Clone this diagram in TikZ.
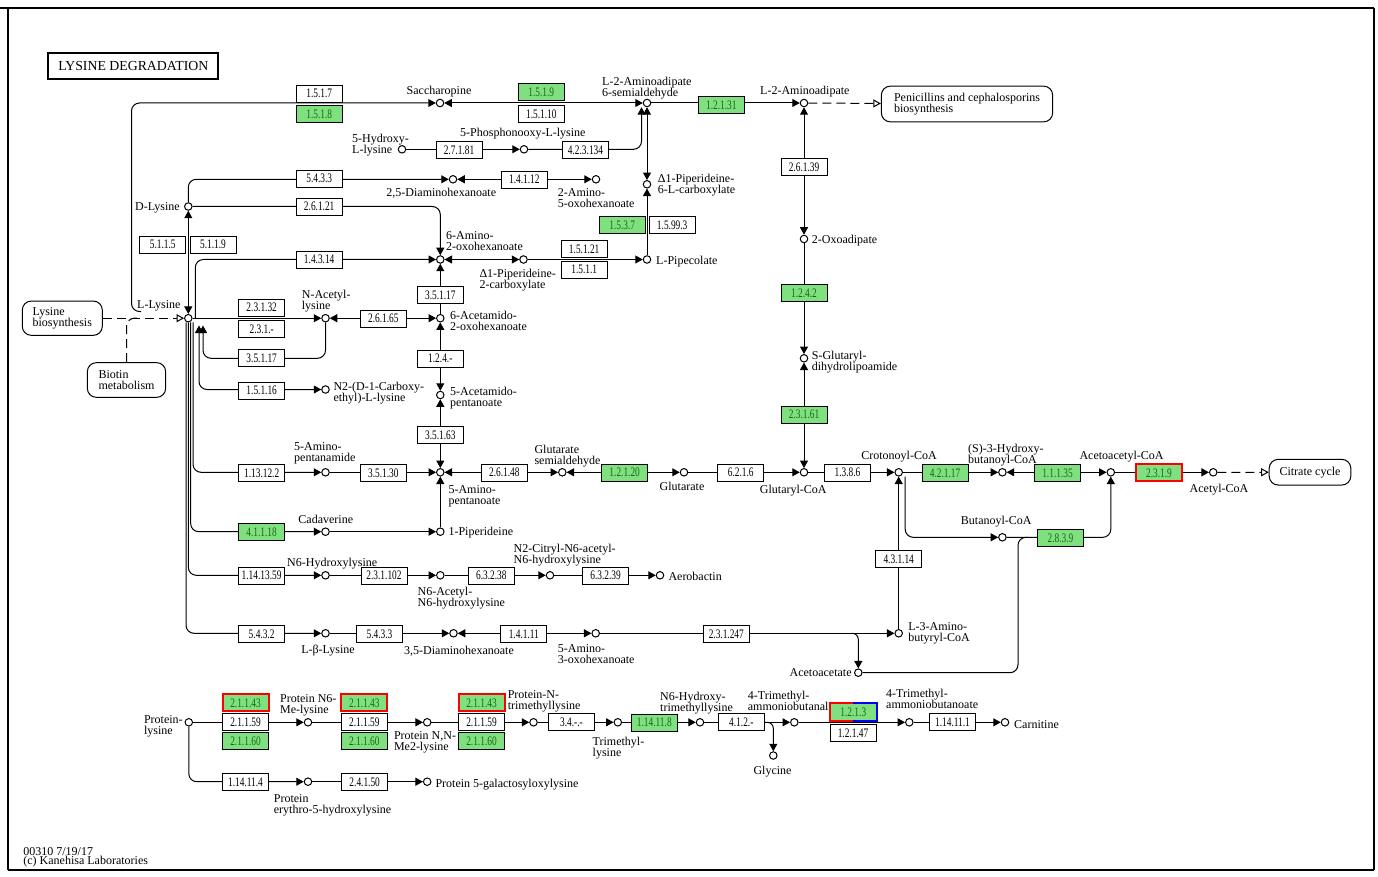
\documentclass[tikz,border=0pt]{standalone}
\usepackage{fontspec}
\setmainfont{Liberation Serif}
\newfontfamily\enzfont[FakeStretch=0.72]{Liberation Serif}
\usetikzlibrary{arrows.meta}

\definecolor{kgreen}{RGB}{128,224,128}
\definecolor{kgtext}{RGB}{20,105,20}

\tikzstyle{cpd} = [circle, minimum size=7.5pt, inner sep=0pt, line width=1pt, draw=black, fill=white]
\tikzstyle{enzyme} = [rectangle, minimum width=46pt, minimum height=17pt, inner sep=0pt, line width=1pt, draw=black, fill=white, font=\enzfont\fontsize{13pt}{13pt}\selectfont]
\tikzstyle{genzyme} = [enzyme, fill=kgreen, text=kgtext]
\tikzstyle{hitenzyme} = [genzyme, draw=red, line width=2pt]
\tikzstyle{mapbox} = [rectangle, rounded corners=9pt, inner sep=0pt, line width=1pt, draw=black, align=left, font=\fontsize{12pt}{11pt}\selectfont]
\tikzstyle{cpdlabel} = [inner sep=0pt, align=left, font=\fontsize{12pt}{11pt}\selectfont]
\tikzstyle{conn} = [line width=1pt]
\tikzstyle{arrow} = [line width=1pt, ->, >={Triangle[length=7.5pt,width=8pt]}]
\tikzstyle{biarrow} = [line width=1pt, <->, >={Triangle[length=7.5pt,width=8pt]}]
\tikzstyle{maplink} = [line width=1pt, dash pattern=on 9pt off 5pt]
\tikzstyle{maparrow} = [maplink, ->, >={Triangle[open,length=7.5pt,width=8pt]}]

\begin{document}
\begin{tikzpicture}[x=1pt, y=-1pt]

    \useasboundingbox (0,0) rectangle (1378,877);

    % frame
    \draw[line width=1.2pt] (0,8) -- (1374,8);
    \draw[line width=1.2pt] (8,8) -- (8,870);
    \draw[line width=1.2pt] (1374,8) -- (1374,870);
    \draw[line width=2.5pt] (8,870) -- (1374,870);

    \node (title) [draw, line width=2pt, minimum width=170pt, minimum height=26pt, inner sep=0pt, font=\fontsize{13.8pt}{14pt}\selectfont] at (133.3,66.3) {LYSINE DEGRADATION};

    % compounds
    \node (sacch) [cpd] at (440,103) {};
    \node (aasa) [cpd] at (647,103) {};
    \node (aad) [cpd] at (804,103) {};
    \node (hlys) [cpd] at (402,149.3) {};
    \node (plys) [cpd] at (524,149.3) {};
    \node (dah25) [cpd] at (453,179.3) {};
    \node (ao5) [cpd] at (596,179.3) {};
    \node (p6c) [cpd] at (647,184.3) {};
    \node (dlys) [cpd] at (188.3,206.5) {};
    \node (oad) [cpd] at (804,239) {};
    \node (aoh) [cpd] at (440.3,259.5) {};
    \node (p2c) [cpd] at (523.5,259.5) {};
    \node (pip) [cpd] at (647,259.5) {};
    \node (lys) [cpd] at (188.3,318.2) {};
    \node (aclys) [cpd] at (325.5,318.2) {};
    \node (acoh) [cpd] at (440.3,318.2) {};
    \node (sgdl) [cpd] at (804,358.3) {};
    \node (cel) [cpd] at (325.5,389.5) {};
    \node (acpt) [cpd] at (440.3,395) {};
    \node (apm) [cpd] at (325.5,472.3) {};
    \node (apt) [cpd] at (440.3,472.3) {};
    \node (gsa) [cpd] at (562.3,472.3) {};
    \node (glt) [cpd] at (684,472.3) {};
    \node (gcoa) [cpd] at (804,472.3) {};
    \node (crot) [cpd] at (898.7,472.3) {};
    \node (hbcoa) [cpd] at (1002.4,472.3) {};
    \node (aacoa) [cpd] at (1110.8,472.3) {};
    \node (accoa) [cpd] at (1213.2,472.3) {};
    \node (cad) [cpd] at (325.5,531.7) {};
    \node (pipd) [cpd] at (440.3,531.7) {};
    \node (bcoa) [cpd] at (1002.4,537.3) {};
    \node (hyl) [cpd] at (325.5,575.3) {};
    \node (achyl) [cpd] at (440.3,575.3) {};
    \node (cit) [cpd] at (550,575.3) {};
    \node (aerob) [cpd] at (660,575.3) {};
    \node (blys) [cpd] at (325.5,633.3) {};
    \node (dah35) [cpd] at (453.5,633.3) {};
    \node (ao3) [cpd] at (595.7,633.3) {};
    \node (abcoa) [cpd] at (898.7,633.3) {};
    \node (acac) [cpd] at (858.3,672.7) {};
    \node (prlys) [cpd] at (188.8,722.3) {};
    \node (pme1) [cpd] at (308,722.3) {};
    \node (pme2) [cpd] at (427.2,722.3) {};
    \node (pme3) [cpd] at (533.5,722.3) {};
    \node (tml) [cpd] at (617.8,722.3) {};
    \node (html) [cpd] at (700,722.3) {};
    \node (tmabal) [cpd] at (794.3,722.3) {};
    \node (gly) [cpd] at (773.3,755.5) {};
    \node (tmaba) [cpd] at (909.3,722.3) {};
    \node (carn) [cpd] at (1005,722.3) {};
    \node (phyl) [cpd] at (308,781.7) {};
    \node (pgal) [cpd] at (427.2,781.7) {};

    % linked maps
    \node (pen) [mapbox, minimum width=171.3pt, minimum height=35.7pt] at (967,104) {Penicillins and cephalosporins\\biosynthesis};
    \node (citrate) [mapbox, minimum width=81.6pt, minimum height=25.7pt] at (1310,472.2) {Citrate cycle};
    \node (lysbio) [mapbox, minimum width=80pt, minimum height=34.3pt] at (62.3,318.2) {Lysine\\biosynthesis};
    \node (biotin) [mapbox, minimum width=78.3pt, minimum height=34.7pt] at (126.5,380) {Biotin\\metabolism};

    % compound labels
    \node (tsacch) [cpdlabel, anchor=base] at (439,94.5) {Saccharopine};
    \node (taasa) [cpdlabel, anchor=north west] at (602,76.7) {L-2-Aminoadipate\\6-semialdehyde};
    \node (taad) [cpdlabel, anchor=base west] at (760,95) {L-2-Aminoadipate};
    \node (thlys) [cpdlabel, anchor=north west] at (352,134.3) {5-Hydroxy-\\L-lysine};
    \node (tplys) [cpdlabel, anchor=base west] at (460,136.5) {5-Phosphonooxy-L-lysine};
    \node (tdah25) [cpdlabel, anchor=base] at (441.3,196.7) {2,5-Diaminohexanoate};
    \node (tao5) [cpdlabel, anchor=north west] at (557.7,188.3) {2-Amino-\\5-oxohexanoate};
    \node (tp6c) [cpdlabel, anchor=north west] at (657.7,174) {Δ1-Piperideine-\\6-L-carboxylate};
    \node (taoh) [cpdlabel, anchor=north west] at (446,231.7) {6-Amino-\\2-oxohexanoate};
    \node (tp2c) [cpdlabel, anchor=north west] at (479.3,268.5) {Δ1-Piperideine-\\2-carboxylate};
    \node (tpip) [cpdlabel, anchor=base west] at (656,264.3) {L-Pipecolate};
    \node (toad) [cpdlabel, anchor=base west] at (811.7,243.3) {2-Oxoadipate};
    \node (tdlys) [cpdlabel, anchor=base east] at (180,211) {D-Lysine};
    \node (tlys) [cpdlabel, anchor=base east] at (180.7,308.3) {L-Lysine};
    \node (taclys) [cpdlabel, anchor=north west] at (301.7,290) {N-Acetyl-\\lysine};
    \node (tacoh) [cpdlabel, anchor=north west] at (450,310.7) {6-Acetamido-\\2-oxohexanoate};
    \node (tcel) [cpdlabel, anchor=north west] at (333.3,381.7) {N2-(D-1-Carboxy-\\ethyl)-L-lysine};
    \node (tacpt) [cpdlabel, anchor=north west] at (450,386.7) {5-Acetamido-\\pentanoate};
    \node (tsgdl) [cpdlabel, anchor=north west] at (811.7,350.7) {S-Glutaryl-\\dihydrolipoamide};
    \node (tapm) [cpdlabel, anchor=north west] at (294,442.7) {5-Amino-\\pentanamide};
    \node (tgsa) [cpdlabel, anchor=north west] at (534.3,445) {Glutarate\\semialdehyde};
    \node (tapt) [cpdlabel, anchor=north west] at (448.3,485) {5-Amino-\\pentanoate};
    \node (tglt) [cpdlabel, anchor=base] at (682,490) {Glutarate};
    \node (tgcoa) [cpdlabel, anchor=base] at (793.3,493.2) {Glutaryl-CoA};
    \node (tcrot) [cpdlabel, anchor=base] at (899,459.2) {Crotonoyl-CoA};
    \node (thbcoa) [cpdlabel, anchor=north west] at (968,443.5) {(S)-3-Hydroxy-\\butanoyl-CoA};
    \node (taacoa) [cpdlabel, anchor=base] at (1121.5,459.2) {Acetoacetyl-CoA};
    \node (taccoa) [cpdlabel, anchor=base] at (1219,492.3) {Acetyl-CoA};
    \node (tbcoa) [cpdlabel, anchor=base] at (996.3,524.3) {Butanoyl-CoA};
    \node (tabcoa) [cpdlabel, anchor=north west] at (908.2,622.7) {L-3-Amino-\\butyryl-CoA};
    \node (tacac) [cpdlabel, anchor=base east] at (851.8,676.8) {Acetoacetate};
    \node (tcad) [cpdlabel, anchor=base] at (325.8,523.3) {Cadaverine};
    \node (tpipd) [cpdlabel, anchor=base west] at (448.3,535) {1-Piperideine};
    \node (thyl) [cpdlabel, anchor=base west] at (287,566) {N6-Hydroxylysine};
    \node (tachyl) [cpdlabel, anchor=north west] at (417.4,586.7) {N6-Acetyl-\\N6-hydroxylysine};
    \node (tcit) [cpdlabel, anchor=north west] at (513.4,544) {N2-Citryl-N6-acetyl-\\N6-hydroxylysine};
    \node (taerob) [cpdlabel, anchor=base west] at (668.3,580.5) {Aerobactin};
    \node (tblys) [cpdlabel, anchor=base] at (328,653.3) {L-β-Lysine};
    \node (tdah35) [cpdlabel, anchor=base] at (459,654.3) {3,5-Diaminohexanoate};
    \node (tao3) [cpdlabel, anchor=north west] at (557.7,644.3) {5-Amino-\\3-oxohexanoate};
    \node (tprlys) [cpdlabel, anchor=north west] at (143.8,715) {Protein-\\lysine};
    \node (tpme1) [cpdlabel, anchor=north west] at (279.9,694.3) {Protein N6-\\Me-lysine};
    \node (tpme2) [cpdlabel, anchor=north west] at (393.8,731.7) {Protein N,N-\\Me2-lysine};
    \node (tpme3) [cpdlabel, anchor=north west] at (507.6,690.7) {Protein-N-\\trimethyllysine};
    \node (ttml) [cpdlabel, anchor=north west] at (592.5,736.7) {Trimethyl-\\lysine};
    \node (thtml) [cpdlabel, anchor=north west] at (660,691.7) {N6-Hydroxy-\\trimethyllysine};
    \node (ttmabal) [cpdlabel, anchor=north west] at (747.7,690.7) {4-Trimethyl-\\ammoniobutanal};
    \node (tgly) [cpdlabel, anchor=base] at (772.5,774.5) {Glycine};
    \node (ttmaba) [cpdlabel, anchor=north west] at (886,689.3) {4-Trimethyl-\\ammoniobutanoate};
    \node (tcarn) [cpdlabel, anchor=base west] at (1014,728) {Carnitine};
    \node (tphyl) [cpdlabel, anchor=north west] at (273.7,794.3) {Protein\\erythro-5-hydroxylysine};
    \node (tpgal) [cpdlabel, anchor=base west] at (435.3,787) {Protein 5-galactosyloxylysine};
    \node (tver) [cpdlabel, anchor=base west] at (23.2,855) {00310 7/19/17};
    \node (tcopy) [cpdlabel, anchor=base west] at (23.2,864.5) {(c) Kanehisa Laboratories};

    % free ends of connectors
    \coordinate (lystop) at (141,311.5);
    \coordinate (lysr1) at (199,325.5);
    \coordinate (lysr2) at (203,325.5);
    \coordinate (lysb2) at (203,358.3);
    \coordinate (bioj) at (137,318.2);
    \coordinate (acacj) at (1028,537.3);
    \coordinate (acacbr) at (851.7,633.3);
    \coordinate (glybr) at (765,722.3);

    % reactions
    \draw [arrow, rounded corners=8pt] (lystop) -- (131.5,311.5) -- (131.5,103) -- (sacch);
    \draw [biarrow] (aasa) -- (sacch);
    \draw [arrow] (aasa) -- (aad);
    \draw [maparrow] (aad) -- (pen);
    \draw [arrow] (hlys) -- (plys);
    \draw [arrow, rounded corners=8pt] (plys) -| ([xshift=-5.5pt]aasa.south);
    \draw [biarrow] (aasa) -- (p6c);
    \draw [arrow] (pip) -- (p6c);
    \draw [arrow, rounded corners=8pt] (dlys) |- (dah25);
    \draw [biarrow] (ao5) -- (dah25);
    \draw [arrow, rounded corners=8pt] (dlys) -| (aoh);
    \draw [biarrow] (lys) -- (dlys);
    \draw [arrow, rounded corners=8pt] ([xshift=7pt]lys.center) |- (aoh);
    \draw [biarrow] (aoh) -- (p2c);
    \draw [arrow] (p2c) -- (pip);

    \draw [arrow] (lys) -- (aclys);
    \draw [biarrow] (aclys) -- (acoh);
    \draw [arrow] (acoh) -- (aoh);
    \draw [biarrow] (acoh) -- (acpt);
    \draw [biarrow] (acpt) -- (apt);
    \draw [arrow, rounded corners=8pt] (aclys) |- (lysb2) -- (lysr2);
    \draw [biarrow, rounded corners=8pt] (lysr1) |- (cel);
    \draw [arrow, rounded corners=8pt] ([xshift=4.7pt]lys.south) |- (apm);
    \draw [arrow] (apm) -- (apt);
    \draw [biarrow] (gsa) -- (apt);
    \draw [biarrow] (gsa) -- (glt);
    \draw [arrow] (glt) -- (gcoa);

    \draw [biarrow] (aad) -- (oad);
    \draw [arrow] (oad) -- (sgdl);
    \draw [biarrow] (sgdl) -- (gcoa);
    \draw [arrow] (gcoa) -- (crot);
    \draw [arrow] (crot) -- (hbcoa);
    \draw [biarrow] (hbcoa) -- (aacoa);
    \draw [arrow] (aacoa) -- (accoa);
    \draw [maparrow] (accoa) -- (citrate);
    \draw [arrow, rounded corners=8pt] ([xshift=6.5pt]crot.south) |- (bcoa);
    \draw [arrow, rounded corners=8pt] (bcoa) -| (aacoa);
    \draw [conn, rounded corners=8pt] (acac) -| ([xshift=-10pt]acacj) -- (acacj);
    \draw [arrow] (abcoa) -- (crot);
    \draw [arrow] (ao3) -- (abcoa);
    \draw [arrow, rounded corners=6pt] (acacbr) -| (acac);

    \draw [arrow, rounded corners=8pt] ([xshift=2.4pt]lys.south) |- (cad);
    \draw [arrow] (cad) -- (pipd);
    \draw [arrow] (pipd) -- (apt);
    \draw [arrow, rounded corners=8pt] (lys.south) |- (hyl);
    \draw [arrow] (hyl) -- (achyl);
    \draw [arrow] (achyl) -- (cit);
    \draw [arrow] (cit) -- (aerob);
    \draw [arrow, rounded corners=8pt] ([xshift=-2.3pt]lys.south) |- (blys);
    \draw [arrow] (blys) -- (dah35);
    \draw [biarrow] (dah35) -- (ao3);

    \draw [arrow] (prlys) -- (pme1);
    \draw [arrow] (pme1) -- (pme2);
    \draw [arrow] (pme2) -- (pme3);
    \draw [arrow] (pme3) -- (tml);
    \draw [arrow] (tml) -- (html);
    \draw [arrow] (html) -- (tmabal);
    \draw [arrow, rounded corners=6pt] (glybr) -| (gly);
    \draw [arrow] (tmabal) -- (tmaba);
    \draw [arrow] (tmaba) -- (carn);
    \draw [arrow, rounded corners=8pt] (prlys) |- (phyl);
    \draw [arrow] (phyl) -- (pgal);

    \draw [maparrow] (lysbio) -- (lys);
    \draw [maplink, rounded corners=8pt] (biotin) |- (bioj);

    % enzymes
    \node (e1517) [enzyme] at (319.2,93.7) {1.5.1.7};
    \node (e1518) [genzyme] at (319.2,114) {1.5.1.8};
    \node (e1519) [genzyme] at (541.3,92.5) {1.5.1.9};
    \node (e15110) [enzyme] at (541.3,114) {1.5.1.10};
    \node (e12131) [genzyme] at (721.3,105) {1.2.1.31};
    \node (e27181) [enzyme] at (459,150) {2.7.1.81};
    \node (e423134) [enzyme] at (585.5,150) {4.2.3.134};
    \node (e5433a) [enzyme] at (319.2,178.7) {5.4.3.3};
    \node (e14112) [enzyme] at (524.3,179.7) {1.4.1.12};
    \node (e26121) [enzyme] at (319.2,206.7) {2.6.1.21};
    \node (e26139) [enzyme] at (804,167.5) {2.6.1.39};
    \node (e1537) [genzyme] at (622.2,225.3) {1.5.3.7};
    \node (e15993) [enzyme] at (672.2,225.3) {1.5.99.3};
    \node (e5115) [enzyme] at (162.8,244.7) {5.1.1.5};
    \node (e5119) [enzyme] at (213,244.7) {5.1.1.9};
    \node (e15121) [enzyme] at (584.2,248.8) {1.5.1.21};
    \node (e1511) [enzyme] at (584.2,269.7) {1.5.1.1};
    \node (e14314) [enzyme] at (319.2,259.7) {1.4.3.14};
    \node (e1242) [genzyme] at (804,293) {1.2.4.2};
    \node (e35117a) [enzyme] at (440.3,295.3) {3.5.1.17};
    \node (e23132) [enzyme] at (261.7,307.7) {2.3.1.32};
    \node (e231x) [enzyme] at (261.7,329) {2.3.1.-};
    \node (e26165) [enzyme] at (383.3,318.7) {2.6.1.65};
    \node (e35117b) [enzyme] at (261.7,358.3) {3.5.1.17};
    \node (e124x) [enzyme] at (440.3,358.7) {1.2.4.-};
    \node (e15116) [enzyme] at (261.7,390.5) {1.5.1.16};
    \node (e23161) [genzyme] at (804,414.7) {2.3.1.61};
    \node (e35163) [enzyme] at (440.3,435) {3.5.1.63};
    \node (e113122) [enzyme] at (261.7,473.3) {1.13.12.2};
    \node (e35130) [enzyme] at (383.3,473.3) {3.5.1.30};
    \node (e26148) [enzyme] at (504.3,472.5) {2.6.1.48};
    \node (e12120) [genzyme] at (624.7,472.5) {1.2.1.20};
    \node (e6216) [enzyme] at (740.7,472.5) {6.2.1.6};
    \node (e1386) [enzyme] at (847.5,472.5) {1.3.8.6};
    \node (e42117) [genzyme] at (945.1,473.3) {4.2.1.17};
    \node (e11135) [genzyme] at (1057.5,473.3) {1.1.1.35};
    \node (e2319) [hitenzyme] at (1159,472.8) {2.3.1.9};
    \node (e41118) [genzyme] at (261.6,532) {4.1.1.18};
    \node (e2839) [genzyme] at (1060.5,537.8) {2.8.3.9};
    \node (e43114) [enzyme] at (898.7,559) {4.3.1.14};
    \node (e1141359) [enzyme] at (261.6,575.7) {1.14.13.59};
    \node (e231102) [enzyme] at (384,575.7) {2.3.1.102};
    \node (e63238) [enzyme] at (491.3,575.7) {6.3.2.38};
    \node (e63239) [enzyme] at (605.6,575.7) {6.3.2.39};
    \node (e5432) [enzyme] at (261.6,634.3) {5.4.3.2};
    \node (e5433b) [enzyme] at (379.5,634.3) {5.4.3.3};
    \node (e14111) [enzyme] at (523.8,633.8) {1.4.1.11};
    \node (e231247) [enzyme] at (726.3,633.8) {2.3.1.247};

    \node (e21143a) [hitenzyme] at (245.5,702.8) {2.1.1.43};
    \node (e21159a) [enzyme] at (245.5,722) {2.1.1.59};
    \node (e21160a) [genzyme] at (245.5,741) {2.1.1.60};
    \node (e21143b) [hitenzyme] at (364.3,702.8) {2.1.1.43};
    \node (e21159b) [enzyme] at (364.3,722) {2.1.1.59};
    \node (e21160b) [genzyme] at (364.3,741) {2.1.1.60};
    \node (e21143c) [hitenzyme] at (481.5,702.8) {2.1.1.43};
    \node (e21159c) [enzyme] at (481.5,722) {2.1.1.59};
    \node (e21160c) [genzyme] at (481.5,741) {2.1.1.60};
    \node (e34) [enzyme] at (571.4,722.3) {3.4.-.-};
    \node (e114118) [genzyme] at (654.3,722.5) {1.14.11.8};
    \node (e412) [enzyme] at (741.3,722.3) {4.1.2.-};
    \node (e1213) [genzyme, draw=none] at (853.3,712) {1.2.1.3};
    \draw [red, line width=2pt] (e1213.north) -- (e1213.north west) -- (e1213.south west) -- (e1213.south);
    \draw [blue, line width=2pt] (e1213.north) -- (e1213.north east) -- (e1213.south east) -- (e1213.south);
    \node (e12147) [enzyme] at (853,732.8) {1.2.1.47};
    \node (e114111) [enzyme] at (952.5,722.3) {1.14.11.1};
    \node (e114114) [enzyme] at (245.5,782) {1.14.11.4};
    \node (e24150) [enzyme] at (364.7,782) {2.4.1.50};

\end{tikzpicture}
\end{document}
